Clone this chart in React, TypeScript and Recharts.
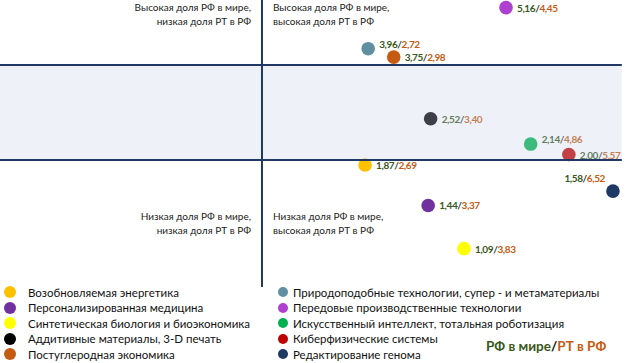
import React from "react";
import { ScatterChart, Scatter, XAxis, YAxis, ReferenceArea, ReferenceLine, Cell, LabelList } from "recharts";

const categories = [
  "Возобновляемая энергетика",
  "Персонализированная медицина",
  "Синтетическая биология и биоэкономика",
  "Аддитивные материалы, 3-D печать",
  "Постуглеродная экономика",
  "Природоподобные технологии, супер - и метаматериалы",
  "Передовые производственные технологии",
  "Искусственный интеллект, тотальная роботизация",
  "Киберфизические системы",
  "Редактирование генома",
];
const colors = [
  "#ffc000", "#7030a0", "#ffff00", "#000000", "#c55a11",
  "#5f8fa0", "#b040d0", "#00b050", "#c00000", "#1f3864",
];
const worldShare = [1.87, 1.44, 1.09, 2.52, 3.75, 3.96, 5.16, 2.14, 2.0, 1.58];
const rtShare = [2.69, 3.37, 3.83, 3.4, 2.98, 2.72, 4.45, 4.86, 5.57, 6.52];

const quadrantLabels = [
  ["Высокая доля РФ в мире,", "низкая доля РТ в РФ"],
  ["Высокая доля РФ в мире,", "высокая доля РТ в РФ"],
  ["Низкая доля РФ в мире,", "низкая доля РТ в РФ"],
  ["Низкая доля РФ в мире,", "высокая доля РТ в РФ"],
];
const legendTitleA = "РФ в мире";
const legendTitleB = "РТ в РФ";

// quadrant / band thresholds (data units)
const xDivider = 1.8615;
const bandLow = 1.931;
const bandHigh = 3.564;
const xDomain: [number, number] = [0.7303, 7.004];
const yDomain: [number, number] = [0.5212, 5.421];
const lineEndX = 6.73;
const vLineBottom = 0.851;

const data = categories.map((name, i) => ({
  name,
  color: colors[i],
  world: worldShare[i],
  rt: rtShare[i],
}));

const FONT = "Lato, 'Open Sans', sans-serif";
const GREEN = "#38571a";
const ORANGE = "#c55a11";
const fmt = (v: number) => v.toFixed(2).replace(".", ",");

// a label is nudged upward when another point sits just below-right of it
const hasCrowdedNeighbour = (d: { world: number; rt: number }) =>
  data.some(
    (e) =>
      e.world < d.world &&
      Math.log(d.world / e.world) < 0.08 &&
      e.rt > d.rt &&
      Math.log(e.rt / d.rt) < 0.2
  );

const DotShape = (props: any) => {
  const { cx, cy, payload } = props;
  return <circle cx={cx} cy={cy} r={6.8} fill={payload.color} />;
};

const renderLabel = (props: any) => {
  const vb = props.viewBox && typeof props.viewBox.x === "number" ? props.viewBox : props;
  const cx = Number(vb.x) + Number(vb.width || 0) / 2;
  const cy = Number(vb.y) + Number(vb.height || 0) / 2;
  const d = data.find((e) => e.name === props.value);
  if (!d) return null;
  const nearEdge = cx > 600;
  const tx = nearEdge ? cx - 8 : cx + 11;
  const ty = nearEdge ? cy - 13 : cy - (hasCrowdedNeighbour(d) ? 5 : 0);
  return (
    <text
      x={tx}
      y={ty}
      dominantBaseline="central"
      textAnchor={nearEdge ? "end" : "start"}
      fontFamily={FONT}
      fontWeight={700}
      fontSize={10}
      letterSpacing={-0.4}
    >
      <tspan fill={GREEN}>{fmt(d.world)}</tspan>
      <tspan fill="#333">/</tspan>
      <tspan fill={ORANGE}>{fmt(d.rt)}</tspan>
    </text>
  );
};

const qStyle: React.CSSProperties = {
  position: "absolute",
  fontFamily: FONT,
  fontSize: 10,
  lineHeight: "13.5px",
  color: "#222",
  whiteSpace: "nowrap",
};

export default function App() {
  const left = data.slice(0, 5);
  const right = data.slice(5);
  return (
    <div style={{ position: "absolute", left: 0, top: 0, width: 633, height: 363, background: "#fff" }}>
      <ScatterChart width={633} height={363} margin={{ top: 0, right: 0, bottom: 0, left: 0 }}>
        <XAxis type="number" dataKey="rt" scale="log" domain={xDomain} allowDataOverflow hide />
        <YAxis type="number" dataKey="world" scale="log" domain={yDomain} allowDataOverflow hide />
        <Scatter data={data} isAnimationActive={false} shape={<DotShape />}>
          {data.map((d, i) => (
            <Cell key={i} fill={d.color} />
          ))}
          <LabelList dataKey="name" content={renderLabel} zIndex={700} />
        </Scatter>
        <ReferenceArea
          x1={xDomain[0]}
          x2={lineEndX}
          y1={bandLow}
          y2={bandHigh}
          fill="#c6d4e8"
          fillOpacity={0.3}
          stroke="none"
          ifOverflow="visible"
          zIndex={1000}
        />
        <ReferenceLine
          segment={[{ x: xDomain[0], y: bandHigh }, { x: lineEndX, y: bandHigh }]}
          stroke="#1f3864"
          strokeWidth={2}
          ifOverflow="visible"
          zIndex={1100}
        />
        <ReferenceLine
          segment={[{ x: xDomain[0], y: bandLow }, { x: lineEndX, y: bandLow }]}
          stroke="#1f3864"
          strokeWidth={2}
          ifOverflow="visible"
          zIndex={1100}
        />
        <ReferenceLine
          segment={[{ x: xDivider, y: yDomain[1] }, { x: xDivider, y: vLineBottom }]}
          stroke="#1f3864"
          strokeWidth={2}
          ifOverflow="visible"
          zIndex={1100}
        />
      </ScatterChart>

      <div style={{ ...qStyle, right: 633 - 251, top: 1, textAlign: "right" }}>
        {quadrantLabels[0][0]}<br />{quadrantLabels[0][1]}
      </div>
      <div style={{ ...qStyle, left: 273, top: 1 }}>
        {quadrantLabels[1][0]}<br />{quadrantLabels[1][1]}
      </div>
      <div style={{ ...qStyle, right: 633 - 251, top: 210, textAlign: "right" }}>
        {quadrantLabels[2][0]}<br />{quadrantLabels[2][1]}
      </div>
      <div style={{ ...qStyle, left: 273, top: 210 }}>
        {quadrantLabels[3][0]}<br />{quadrantLabels[3][1]}
      </div>

      {left.map((d, i) => (
        <div key={d.name} style={{ position: "absolute", left: 4, top: 284 + i * 15.6, height: 16, display: "flex", alignItems: "center", fontFamily: FONT, fontSize: 11.5, color: "#111", whiteSpace: "nowrap" }}>
          <span style={{ display: "inline-block", width: 12, height: 12, borderRadius: 6, background: d.color, marginRight: 12 }} />
          {d.name}
        </div>
      ))}
      {right.map((d, i) => (
        <div key={d.name} style={{ position: "absolute", left: 278, top: 284 + i * 15.6, height: 16, display: "flex", alignItems: "center", fontFamily: FONT, fontSize: 11.5, color: "#111", whiteSpace: "nowrap" }}>
          <span style={{ display: "inline-block", width: 10, height: 10, borderRadius: 5, background: d.color, marginRight: 5 }} />
          {d.name}
        </div>
      ))}
      <div style={{ position: "absolute", left: 486, top: 338, fontFamily: FONT, fontSize: 13.5, fontWeight: 700, whiteSpace: "nowrap" }}>
        <span style={{ color: GREEN }}>{legendTitleA}</span>
        <span style={{ color: "#111" }}>/</span>
        <span style={{ color: ORANGE }}>{legendTitleB}</span>
      </div>
    </div>
  );
}
